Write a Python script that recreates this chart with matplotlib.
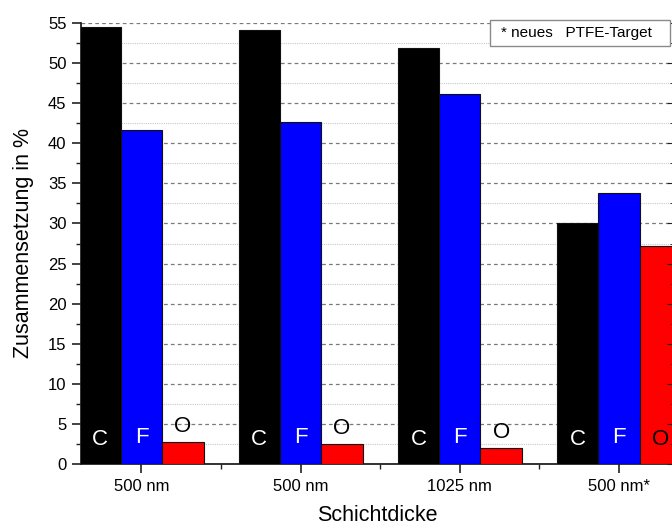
import matplotlib
matplotlib.use('Agg')
import matplotlib.pyplot as plt
import numpy as np
from matplotlib.ticker import MultipleLocator, FixedLocator
from matplotlib.patches import Rectangle

plt.rcParams['font.family'] = ['Liberation Sans', 'DejaVu Sans']

# data
groups = ['500 nm', '500 nm', '1025 nm', '500 nm*']
elements = ['C', 'F', 'O']
val_C = [54.5, 54.1, 51.9, 30.0]
val_F = [41.6, 42.6, 46.1, 33.8]
val_O = [2.75, 2.5, 2.0, 27.2]
colors = ['#000000', '#0000ff', '#ff0000']
note = '* neues   PTFE-Target'

# sizes
w = 0.26
font_lab = 15.5
font_ax = 12
font_el = 16

fig = plt.figure(figsize=(6.72, 5.28), dpi=100)
ax = fig.add_axes([81/672, 64/528, 592/672, 441/528])

x = np.arange(1, len(groups) + 1)
series = [val_C, val_F, val_O]
for i, (vals, col) in enumerate(zip(series, colors)):
    ax.bar(x + (i - 1)*w, vals, w, color=col, edgecolor='#111111', lw=0.8, zorder=3)

# element letters on / above the bars
for j in range(len(groups)):
    ax.text(x[j] - w, 3.1, elements[0], color='white', ha='center', va='center', fontsize=font_el, zorder=4)
    ax.text(x[j], 3.3, elements[1], color='white', ha='center', va='center', fontsize=font_el, zorder=4)
    yo = val_O[j] + 1.9 if val_O[j] < 10 else 3.0
    ax.text(x[j] + w, yo, elements[2], color='black', ha='center', va='center', fontsize=font_el, zorder=4)

ax.set_xlim(0.62, 4.34)
ax.set_ylim(0, 55)
ax.set_xticks(x)
ax.set_xticklabels(groups, fontsize=font_ax)
ax.xaxis.set_minor_locator(FixedLocator(x[:-1] + 0.5))
ax.yaxis.set_major_locator(MultipleLocator(5))
ax.yaxis.set_minor_locator(MultipleLocator(2.5))
ax.tick_params(axis='y', labelsize=font_ax)
ax.tick_params(which='major', length=6.5, width=1.2, color='#222222', pad=4)
ax.tick_params(which='minor', length=3.5, width=1.0, color='#222222')

ax.grid(axis='y', which='major', ls=(0, (3, 2.5)), color='#7a7a7a', lw=0.9, zorder=0)
ax.grid(axis='y', which='minor', ls=(0, (1, 1)), color='#c8c8c8', lw=0.8, zorder=0)
ax.set_axisbelow(True)

for s in ['top', 'right']:
    ax.spines[s].set_visible(False)
for s in ['left', 'bottom']:
    ax.spines[s].set_linewidth(1.3)
    ax.spines[s].set_color('#222222')

# right-hand ticks point inwards
ax2 = ax.twinx()
ax2.set_ylim(0, 55)
ax2.yaxis.set_major_locator(MultipleLocator(5))
ax2.yaxis.set_minor_locator(MultipleLocator(2.5))
ax2.tick_params(which='both', direction='in', labelright=False, color='#222222')
ax2.tick_params(which='major', length=4)
ax2.tick_params(which='minor', length=2.5)
for s in ['top', 'right', 'left', 'bottom']:
    ax2.spines[s].set_visible(False)

ax.set_xlabel('Schichtdicke', fontsize=font_lab, labelpad=8)
ax.set_ylabel('Zusammensetzung in %', fontsize=font_lab, labelpad=10)

# note box in the top right corner
fig.patches.append(Rectangle((490/672, 1 - 46/528), 180/672, 26/528, transform=fig.transFigure,
                             fill=True, facecolor='white', edgecolor='#8a8a8a', lw=1.0, zorder=5))
fig.text(501/672, 1 - 33/528, note, fontsize=11, va='center', ha='left', zorder=6)

fig.savefig('out.png', dpi=100)
